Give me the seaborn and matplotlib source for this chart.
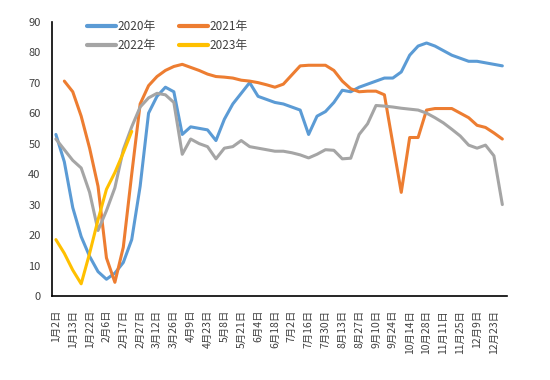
import numpy as np
import pandas as pd
import matplotlib
matplotlib.use('Agg')
import matplotlib.pyplot as plt
import seaborn as sns

# --- data (weekly points, 54 per year) ---
nan = np.nan
years = ['2020年', '2021年', '2022年', '2023年']

y2020 = [53, 44, 29, 19.5, 13, 8, 5.5, 7.5, 11, 18.5,
         36, 60, 65.5, 68.5, 67, 53, 55.5, 55, 54.5, 51,
         58, 63, 66.5, 70, 65.5, 64.5, 63.5, 63, 62, 61,
         53, 59, 60.5, 63.5, 67.5, 67, 68.5, 69.5, 70.5, 71.5,
         71.5, 73.5, 79, 82, 83, 82, 80.5, 79, 78, 77,
         77, 76.5, 76, 75.5]
y2021 = [nan, 70.5, 67, 59, 48.5, 36, 12.5, 4.5, 16, 40,
         63, 69, 72, 74, 75.3, 76, 75, 74, 72.8, 72,
         71.8, 71.5, 70.8, 70.5, 70, 69.3, 68.5, 69.5, 72.5, 75.5,
         75.7, 75.7, 75.7, 74, 70.5, 68, 67, 67.2, 67.2, 66,
         50, 34, 52, 52, 61, 61.5, 61.5, 61.5, 60, 58.5,
         56, 55.3, 53.5, 51.5]
y2022 = [51.5, 48, 44.5, 42, 34, 21.5, 28, 35.5, 48, 55.5,
         62, 65, 66.5, 66, 63.5, 46.5, 51.5, 50, 49, 45,
         48.5, 49, 51, 49, 48.5, 48, 47.5, 47.5, 47, 46.3,
         45.3, 46.5, 48, 47.8, 45, 45.2, 53, 56.5, 62.5, 62.3,
         62, 61.6, 61.3, 61, 60, 58.5, 56.8, 54.7, 52.5, 49.5,
         48.5, 49.5, 46, 30]
y2023 = [18.5, 14, 8.5, 4, 14, 25, 35, 40.5, 47, 54] + [nan] * 44

tick_labels = ['1月2日', '1月13日', '1月22日', '2月6日', '2月17日', '2月27日',
               '3月12日', '3月26日', '4月9日', '4月23日', '5月8日', '5月21日',
               '6月4日', '6月18日', '7月2日', '7月16日', '7月30日', '8月13日',
               '8月27日', '9月10日', '9月24日', '10月14日', '10月28日',
               '11月11日', '11月25日', '12月9日', '12月23日']

colors = ['#5B9BD5', '#ED7D31', '#A5A5A5', '#FFC000']

# long format table for seaborn
week = np.arange(len(y2020))
df = pd.concat([
    pd.DataFrame({'week': week, 'value': vals, 'year': yr})
    for yr, vals in zip(years, [y2020, y2021, y2022, y2023])
]).dropna()

sns.set_theme(style='white')
plt.rcParams['font.family'] = ['Noto Sans CJK SC', 'DejaVu Sans']

fig = plt.figure(figsize=(5.5, 3.8), dpi=100)
ax = fig.add_axes([0.094, 0.221, 0.827, 0.722])

sns.lineplot(data=df, x='week', y='value', hue='year', hue_order=years,
             palette=colors, linewidth=2.2, ax=ax, legend=True)

ax.set_xlim(-0.5, len(week) - 0.5)
ax.set_ylim(0, 90)
ax.set_yticks(range(0, 91, 10))
ax.set_xticks(week[::2])
ax.set_xticklabels(tick_labels, rotation=90)
ax.set_xlabel('')
ax.set_ylabel('')
ax.tick_params(axis='y', length=0, pad=8, labelsize=8, labelcolor='#404040')
ax.tick_params(axis='x', length=0, pad=10, labelsize=7.5, labelcolor='#404040')

for side in ['top', 'right']:
    ax.spines[side].set_visible(False)
for side in ['left', 'bottom']:
    ax.spines[side].set_color('black')
    ax.spines[side].set_linewidth(1.2)

# legend: 2020/2021 on first row, 2022/2023 on second
handles, labels = ax.get_legend_handles_labels()
for h in handles:
    h.set_linewidth(3)
order = [0, 2, 1, 3]
ax.legend([handles[i] for i in order], [labels[i] for i in order],
          ncol=2, frameon=False, loc='upper left',
          bbox_to_anchor=(0.148, 0.962), bbox_transform=fig.transFigure,
          fontsize=8.5, handlelength=2.4, handletextpad=0.15,
          columnspacing=2.0, labelspacing=0.5, borderpad=0, labelcolor='#404040')

fig.savefig('out.png', dpi=100)
